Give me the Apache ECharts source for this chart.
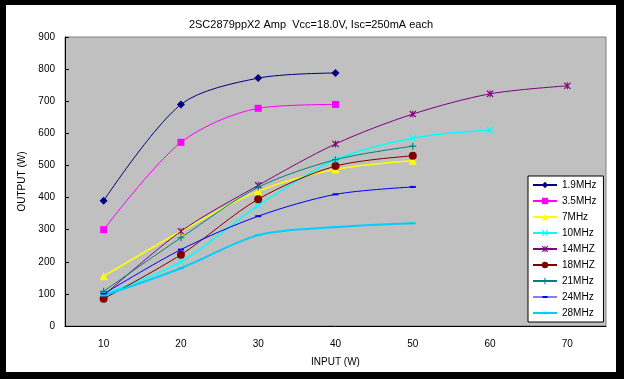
<!DOCTYPE html>
<html>
<head>
<meta charset="utf-8">
<script src="https://cdn.jsdelivr.net/npm/echarts@6/dist/echarts.min.js"></script>
<style>
html,body{margin:0;padding:0;background:#000;width:624px;height:379px;overflow:hidden;}
#chart{position:absolute;left:6px;top:5px;width:610px;height:367px;background:#fff;}
</style>
</head>
<body>
<div id="chart"></div>
<script>
const categories = ['10','20','30','40','50','60','70'];
const seriesNames = ['1.9MHz','3.5MHz','7MHz','10MHz','14MHZ','18MHZ','21MHz','24MHz','28MHz'];
const s19 = [390, 690, 772, 788];
const s35 = [300, 572, 678, 690];
const s7  = [155, 295, 420, 488, 515];
const s10 = [100, 200, 375, 518, 585, 610];
const s14 = [95, 295, 438, 567, 660, 723, 748];
const s18 = [85, 222, 395, 498, 530];
const s21 = [108, 275, 432, 518, 560];
const s24 = [100, 238, 342, 410, 433];
const s28 = [95, 180, 283, 308, 320];
const yTicks = {min: 0, max: 900, interval: 100};

const dataList = [s19, s35, s7, s10, s14, s18, s21, s24, s28];
const colors = ['#000080','#FF00FF','#FFFF00','#00FFFF','#800080','#800000','#008080','#0000FF','#00CCFF'];
const xPath = 'path://M0,1.2L1.2,0L5,3.8L8.8,0L10,1.2L6.2,5L10,8.8L8.8,10L5,6.2L1.2,10L0,8.8L3.8,5Z';
const starPath = 'path://M0,1.2L1.2,0L5,3.8L8.8,0L10,1.2L6.2,5L10,8.8L8.8,10L5,6.2L1.2,10L0,8.8L3.8,5Z M4.3,0L5.7,0L5.7,10L4.3,10Z';
const plusPath = 'path://M4.2,0L5.8,0L5.8,10L4.2,10Z M0,4.2L10,4.2L10,5.8L0,5.8Z';
const dashIcon24 = 'path://M0,0M24,8M0,3.5L24,3.5L24,4.5L0,4.5Z M9.5,3L14.5,3L14.5,5L9.5,5Z';
const dashIcon28 = 'path://M0,0M24,8M0,3L24,3L24,5L0,5Z M9.5,2.7L14.5,2.7L14.5,5.3L9.5,5.3Z';
const symbols = ['diamond','rect','triangle',xPath,starPath,'circle',plusPath,'rect','rect'];
const sizes = [8,7,8,7,7,8,7,[6,2],[6,2]];
const widths = [1,1,1.5,1.5,1,1,1,1,2];

const series = seriesNames.map((n,i)=>({
  name: n,
  type: 'line',
  data: dataList[i],
  smooth: 0.3,
  symbol: symbols[i],
  symbolSize: sizes[i],
  showSymbol: true,
  lineStyle: {color: colors[i], width: widths[i]},
  itemStyle: {color: colors[i], borderWidth: 0},
  emphasis: {disabled: true}
}));

const legendData = seriesNames.map((n,i)=> i === 7 ? {name: n, icon: dashIcon24} : (i === 8 ? {name: n, icon: dashIcon28} : {name: n}));

const chart = echarts.init(document.getElementById('chart'));
chart.setOption({
  animation: false,
  textStyle: {fontFamily: 'Liberation Sans, Arial, sans-serif'},
  title: {
    text: '2SC2879ppX2 Amp  Vcc=18.0V, Isc=250mA each',
    left: 'center', top: 9,
    textStyle: {fontSize: 11, fontWeight: 'normal', color: '#000'}
  },
  grid: {
    left: 59, top: 32, right: 10, bottom: 44,
    show: true, backgroundColor: '#C0C0C0', borderColor: '#808080', borderWidth: 1
  },
  legend: {
    orient: 'vertical',
    left: 522, top: 171,
    backgroundColor: '#fff', borderColor: '#000', borderWidth: 1,
    padding: [3, 7, 3, 4],
    itemWidth: 24, itemHeight: 8, itemGap: 4,
    textStyle: {fontSize: 10, color: '#000', lineHeight: 12},
    data: legendData
  },
  xAxis: {
    type: 'category',
    data: categories,
    boundaryGap: true,
    name: 'INPUT (W)',
    nameLocation: 'middle',
    nameGap: 31,
    nameTextStyle: {fontSize: 10, color: '#000'},
    axisLine: {lineStyle: {color: '#000'}},
    axisTick: {show: false},
    axisLabel: {fontSize: 10, color: '#000', margin: 13}
  },
  yAxis: {
    type: 'value',
    min: yTicks.min, max: yTicks.max, interval: yTicks.interval,
    name: 'OUTPUT (W)',
    nameLocation: 'middle',
    nameGap: 33,
    nameTextStyle: {fontSize: 10, color: '#000'},
    axisLine: {show: true, lineStyle: {color: '#000'}},
    axisTick: {show: true, inside: true, length: 4, lineStyle: {color: '#000'}},
    splitLine: {show: false},
    axisLabel: {fontSize: 10, color: '#000', margin: 10}
  },
  series: series
});
</script>
</body>
</html>
